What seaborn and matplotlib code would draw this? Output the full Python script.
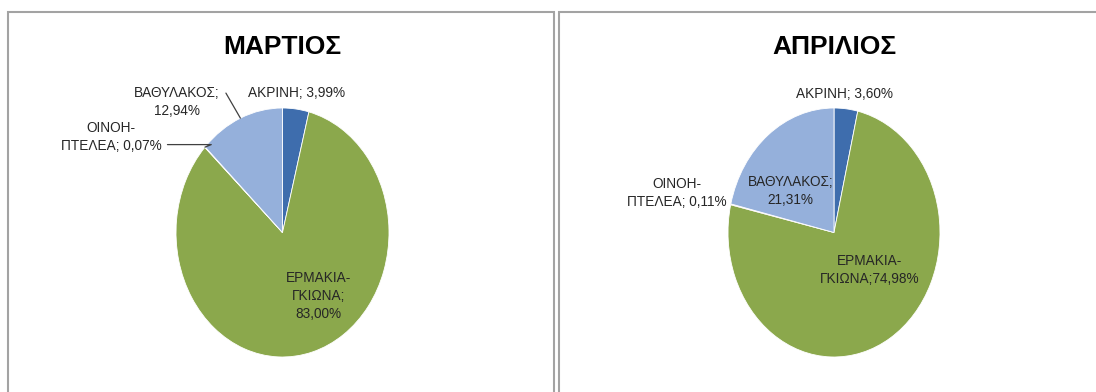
import matplotlib
matplotlib.use("Agg")
import numpy as np
import matplotlib.pyplot as plt
from matplotlib.patches import Rectangle
import seaborn as sns

# Share of each area per month (%)
categories = ["ΑΚΡΙΝΗ", "ΕΡΜΑΚΙΑ-ΓΚΙΩΝΑ", "ΟΙΝΟΗ-ΠΤΕΛΕΑ", "ΒΑΘΥΛΑΚΟΣ"]
march_share = [3.99, 83.00, 0.07, 12.94]
april_share = [3.60, 74.98, 0.11, 21.31]
month_titles = ["ΜΑΡΤΙΟΣ", "ΑΠΡΙΛΙΟΣ"]

sns.set_theme(style="white")
plt.rcParams["font.family"] = ["Liberation Sans", "DejaVu Sans"]
slice_colors = sns.color_palette(["#3E6DAD", "#8BA84C", "#C0504D", "#95B0DB"])

W, H = 1096, 392
fig = plt.figure(figsize=(W / 100, H / 100), dpi=100)
fig.patch.set_facecolor("white")

# chart frames (pixel boxes: x0, y0_top, x1, y1_bottom)
frames = [(8, 12, 554, 420), (559, 12, 1120, 420)]
for x0, y0, x1, y1 in frames:
    fig.add_artist(Rectangle((x0 / W, 1 - y1 / H), (x1 - x0) / W, (y1 - y0) / H,
                             transform=fig.transFigure, fill=False,
                             edgecolor="#A3A3A3", linewidth=1.5))

# plot areas of the two pies (pixel boxes: left, top, right, bottom)
pie_boxes = [(176, 108, 389, 357), (728, 108, 940, 357)]


def pct(v):
    return f"{v:.2f}".replace(".", ",") + "%"


def label_text(name, value, fmt):
    head, _, tail = name.partition("-")
    return fmt.format(n=name, h=head, t=tail, p=pct(value))


# label placement in pie data units: (x, y, format, leader angle or None)
layouts = [
    {
        "ΑΚΡΙΝΗ": (0.13, 1.12, "{n}; {p}", None),
        "ΕΡΜΑΚΙΑ-ΓΚΙΩΝΑ": (0.34, -0.51, "{h}-\n{t};\n{p}", None),
        "ΟΙΝΟΗ-ΠΤΕΛΕΑ": (-1.61, 0.77, "{h}-\n{t}; {p}", (22, (1.0, 0.25))),
        "ΒΑΘΥΛΑΚΟΣ": (-0.99, 1.05, "{n};\n{p}", (120, (1.0, 0.78))),
    },
    {
        "ΑΚΡΙΝΗ": (0.10, 1.11, "{n}; {p}", None),
        "ΕΡΜΑΚΙΑ-ΓΚΙΩΝΑ": (0.34, -0.30, "{h}-\n{t};{p}", None),
        "ΟΙΝΟΗ-ΠΤΕΛΕΑ": (-1.48, 0.32, "{h}-\n{t}; {p}", None),
        "ΒΑΘΥΛΑΚΟΣ": (-0.41, 0.33, "{n};\n{p}", None),
    },
]

for values, title, box, layout in zip([march_share, april_share], month_titles,
                                       pie_boxes, layouts):
    l, t, r, b = box
    ax = fig.add_axes([l / W, 1 - b / H, (r - l) / W, (b - t) / H])
    wedges, _ = ax.pie(values, colors=slice_colors, startangle=90,
                       counterclock=False,
                       wedgeprops=dict(edgecolor="white", linewidth=0.6))
    for w in wedges:
        w.set_clip_on(False)
    ax.set_aspect("auto")
    ax.set_xlim(-1, 1)
    ax.set_ylim(-1, 1)
    ax.axis("off")

    ax.text(0.5, 1 + 61 / (b - t), title, transform=ax.transAxes,
            ha="center", va="center", fontsize=19, fontweight="bold",
            color="#000000")

    for name, value, w in zip(categories, values, wedges):
        x, y, fmt, leader = layout[name]
        txt = label_text(name, value, fmt)
        if leader is None:
            ax.text(x, y, txt, ha="center", va="center", fontsize=9.8,
                    color="#262626", multialignment="center", linespacing=1.35)
        else:
            angle_b, relpos = leader
            mid = np.deg2rad((w.theta1 + w.theta2) / 2)
            ax.annotate(txt, xy=(np.cos(mid), np.sin(mid)), xytext=(x, y),
                        ha="center", va="center", fontsize=9.8, color="#262626",
                        multialignment="center", linespacing=1.35,
                        annotation_clip=False,
                        arrowprops=dict(arrowstyle="-", color="#404040",
                                        linewidth=0.9, shrinkA=2, shrinkB=0,
                                        relpos=relpos,
                                        connectionstyle=f"angle,angleA=0,angleB={angle_b},rad=0"))

fig.savefig("out.png", dpi=100, facecolor="white")
